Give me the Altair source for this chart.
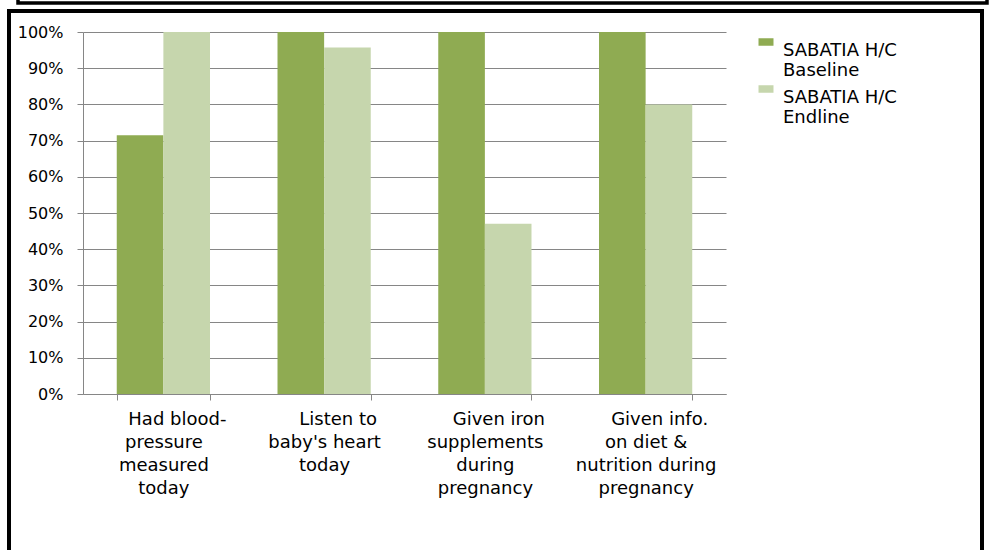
import altair as alt
import pandas as pd

# Survey categories (line breaks marked with "|"; the first line is indented)
IND = "\u200b\u2002\u2002\u2002"
categories = [
    IND + "Had blood-|pressure|measured|today",
    IND + "Listen to|baby's heart|today",
    IND + "Given iron|supplements|during|pregnancy",
    IND + "Given info.|on diet &|nutrition during|pregnancy",
]
series = ["SABATIA H/C Baseline", "SABATIA H/C Endline"]
baseline = [0.715, 1.00, 1.00, 1.00]
endline = [1.00, 0.957, 0.47, 0.80]
colors = ["#8FAB52", "#C6D6AD"]
y_ticks = [i / 10 for i in range(11)]

rows = []
for c, b, e in zip(categories, baseline, endline):
    rows.append({"category": c, "series": series[0], "value": b})
    rows.append({"category": c, "series": series[1], "value": e})
df = pd.DataFrame(rows)

W, H = 643, 362
LEFT, TOP = 83, 32

bars = alt.Chart(df).mark_bar().encode(
    x=alt.X(
        "category:N",
        sort=categories,
        scale=alt.Scale(paddingInner=0.42, paddingOuter=0.21),
        axis=alt.Axis(
            title=None,
            labelAngle=0,
            labelExpr="split(datum.label, '|')",
            labelFont="DejaVu Sans",
            labelFontSize=18,
            labelLineHeight=23,
            labelColor="#000000",
            labelPadding=10,
            labelLimit=0,
            tickBand="extent",
            tickSize=6,
            tickColor="#868686",
            domainColor="#868686",
            grid=False,
        ),
    ),
    xOffset=alt.XOffset("series:N", sort=series),
    y=alt.Y(
        "value:Q",
        scale=alt.Scale(domain=[0, 1], nice=False),
        axis=alt.Axis(
            title=None,
            format=".0%",
            values=y_ticks,
            labelFont="DejaVu Sans",
            labelFontSize=16,
            labelColor="#000000",
            labelPadding=14,
            tickSize=6,
            tickColor="#868686",
            domainColor="#868686",
            gridColor="#868686",
            gridWidth=1.2,
        ),
    ),
    color=alt.Color(
        "series:N",
        sort=series,
        scale=alt.Scale(domain=series, range=colors),
        legend=alt.Legend(
            title=None,
            orient="none",
            legendX=674,
            legendY=1,
            symbolType="M-1,-0.5H1V0.5H-1Z",
            symbolSize=225,
            symbolStrokeWidth=0,
            labelExpr="[split(datum.label, ' ')[0] + ' ' + split(datum.label, ' ')[1], split(datum.label, ' ')[2]]",
            labelFont="DejaVu Sans",
            labelFontSize=18,
            labelColor="#000000",
            labelOffset=8,
            labelLimit=0,
            labelBaseline="top",
            rowPadding=0,
        ),
    ),
)

# Outer page frames
frame_data = alt.Data(values=[{}])
outer = alt.Chart(frame_data).mark_rect(
    fillOpacity=0, stroke="#000000", strokeWidth=4
).encode(
    x=alt.value(-74), x2=alt.value(899), y=alt.value(-21), y2=alt.value(540)
)
top_box = alt.Chart(frame_data).mark_rect(
    fillOpacity=0, stroke="#000000", strokeWidth=3.5
).encode(
    x=alt.value(-65), x2=alt.value(904), y=alt.value(-60), y2=alt.value(-29)
)

chart = (
    alt.layer(bars, outer, top_box)
    .properties(
        width=W,
        height=H,
        autosize=alt.AutoSizeParams(type="none"),
        padding={"left": LEFT, "top": TOP, "right": 991 - LEFT - W, "bottom": 550 - TOP - H},
        background="#ffffff",
    )
    .configure_view(stroke=None)
)

chart.save("out.html", embed_options={"renderer": "svg", "actions": False})
